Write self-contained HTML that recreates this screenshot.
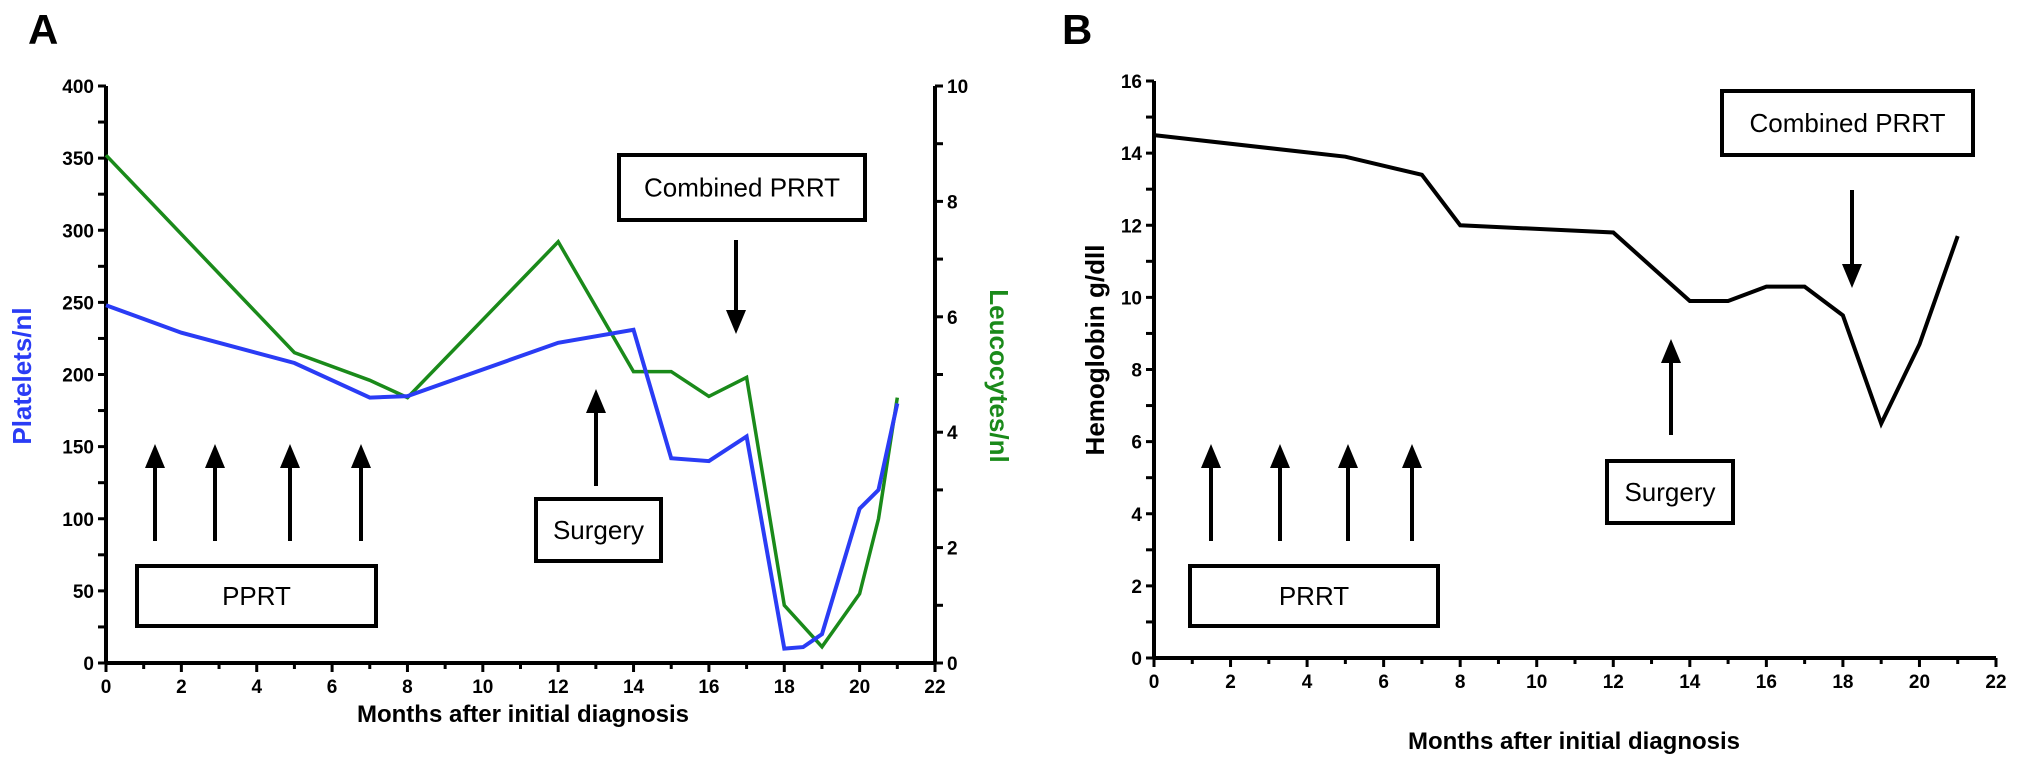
<!DOCTYPE html>
<html><head><meta charset="utf-8">
<style>
html,body{margin:0;padding:0;background:#fff}
svg{display:block}
text{font-family:"Liberation Sans",Arial,sans-serif}
.tk{font-size:19px;font-weight:bold}
</style></head>
<body>
<svg id="chart" width="2031" height="772" viewBox="0 0 2031 772" xmlns="http://www.w3.org/2000/svg">
<text x="28" y="44" font-size="42" font-weight="bold">A</text>
<text x="1062" y="44" font-size="42" font-weight="bold">B</text>
<g id="gA"></g>
<g id="gB"></g>
</svg>
<script>
const monthsPlatelets=[0,2,5,7,8,12,14,15,16,17,18,18.5,19,20,20.5,21];
const platelets=[248,229,208,184,185,222,231,142,140,157,10,11,20,107,120,180];
const monthsLeuco=[0,5,7,8,12,14,15,16,17,18,19,20,20.5,21];
const leucocytes=[8.8,5.38,4.9,4.6,7.3,5.05,5.05,4.62,4.95,1.0,0.28,1.2,2.5,4.6];
const monthsHb=[0,5,7,8,12,14,15,16,17,18,19,20,21];
const hemoglobin=[14.5,13.9,13.4,12.0,11.8,9.9,9.9,10.3,10.3,9.5,6.5,8.7,11.7];
const xTicks=[0,2,4,6,8,10,12,14,16,18,20,22];
const plateletTicks=[0,50,100,150,200,250,300,350,400];
const leucoTicks=[0,2,4,6,8,10];
const hbTicks=[0,2,4,6,8,10,12,14,16];

const NS="http://www.w3.org/2000/svg";
function mk(parent,tag,attrs,txt){const e=document.createElementNS(NS,tag);for(const k in attrs)e.setAttribute(k,attrs[k]);if(txt!==undefined)e.textContent=txt;parent.appendChild(e);return e;}

const gA=document.getElementById('gA');
const gB=document.getElementById('gB');

const ax0=106, ax1=935, ay0=663, ay1=86;
const xA=m=>ax0+(ax1-ax0)*m/22;
const yP=v=>ay0+(ay1-ay0)*v/400;
const yL=v=>ay0+(ay1-ay0)*v/10;
const bx0=1154, bx1=1996, by0=658, by1=81;
const xB=m=>bx0+(bx1-bx0)*m/22;
const yH=v=>by0+(by1-by0)*v/16;

function xAxis(g,x,y0,name,titleX,titleY){
  let l=mk(g,'line',{x1:x(0),y1:y0,x2:x(22),y2:y0,stroke:'#000','stroke-width':4});
  
  
  for(let m=0;m<=22;m++){mk(g,'line',{x1:x(m),y1:y0,x2:x(m),y2:y0+(m%2?6:9),stroke:'#000','stroke-width':3});}
  xTicks.forEach(t=>{
    const e=mk(g,'text',{x:x(t),y:y0+30,'text-anchor':'middle',class:'tk'},String(t));
    
    
  });
  const tt=mk(g,'text',{x:titleX,y:titleY,'text-anchor':'middle','font-size':24,'font-weight':'bold'},'Months after initial diagnosis');
  
  
}
function yAxis(g,x,ys,ticks,max,minorStep,side,name){
  let l=mk(g,'line',{x1:x,y1:ys(0),x2:x,y2:ys(max),stroke:'#000','stroke-width':4});
  
  
  const dir=side==='left'?-1:1;
  for(let v=0;v<=max+1e-9;v+=minorStep){mk(g,'line',{x1:x,y1:ys(v),x2:x+dir*8,y2:ys(v),stroke:'#000','stroke-width':3});}
  ticks.forEach(t=>{
    const e=mk(g,'text',{x:x+dir*12,y:ys(t)+7,'text-anchor':side==='left'?'end':'start',class:'tk'},String(t));
    
    
  });
}
function series(g,xs,vs,xf,yf,color,w,name){
  const d=xs.map((m,i)=>(i?'L':'M')+xf(m).toFixed(1)+','+yf(vs[i]).toFixed(1)).join(' ');
  const p=mk(g,'path',{d:d,fill:'none',stroke:color,'stroke-width':w,'stroke-linejoin':'miter'});
  
  
}
function arrow(g,x,yFrom,yTo,name){
  const grp=mk(g,'g',{});
  
  
  const dir=yTo<yFrom?-1:1;
  const hl=24, hw=10;
  mk(grp,'line',{x1:x,y1:yFrom,x2:x,y2:yTo-dir*hl,stroke:'#000','stroke-width':4});
  mk(grp,'polygon',{points:`${x-hw},${yTo-dir*hl} ${x+hw},${yTo-dir*hl} ${x},${yTo}`,fill:'#000'});
}
function box(g,x1,y1,x2,y2,label,name){
  const grp=mk(g,'g',{});
  
  
  mk(grp,'rect',{x:x1,y:y1,width:x2-x1,height:y2-y1,fill:'#fff',stroke:'#000','stroke-width':4});
  mk(grp,'text',{x:(x1+x2)/2,y:(y1+y2)/2+9,'text-anchor':'middle','font-size':26},label);
}

yAxis(gA,ax0,yP,plateletTicks,400,25,'left','platelets-y-axis');
yAxis(gA,ax1,yL,leucoTicks,10,1,'right','leucocytes-y-axis');
xAxis(gA,xA,ay0,'panel-a',523,722);
series(gA,monthsLeuco,leucocytes,xA,yL,'#1a8a1a',3.5,'leucocytes-line');
series(gA,monthsPlatelets,platelets,xA,yP,'#2a3cf5',4,'platelets-line');
let t=mk(gA,'text',{x:0,y:0,transform:'translate(31,376) rotate(-90)','text-anchor':'middle','font-size':26,'font-weight':'bold',fill:'#2a3cf5'},'Platelets/nl');


t=mk(gA,'text',{x:0,y:0,transform:'translate(990,376) rotate(90)','text-anchor':'middle','font-size':26,'font-weight':'bold',fill:'#1a8a1a'},'Leucocytes/nl');


[155,215,290,361].forEach(x=>arrow(gA,x,541,444,'prrt-cycle-arrow'));
box(gA,137,566,376,626,'PPRT','pprt-box');
arrow(gA,596,486,389,'surgery-arrow');
box(gA,536,499,661,561,'Surgery','surgery-box');
box(gA,619,155,865,220,'Combined PRRT','combined-prrt-box');
arrow(gA,736,240,334,'combined-prrt-arrow');

yAxis(gB,bx0,yH,hbTicks,16,1,'left','hemoglobin-y-axis');
xAxis(gB,xB,by0,'panel-b',1574,749);
series(gB,monthsHb,hemoglobin,xB,yH,'#000',4,'hemoglobin-line');
t=mk(gB,'text',{x:0,y:0,transform:'translate(1104,350) rotate(-90)','text-anchor':'middle','font-size':26,'font-weight':'bold'},'Hemoglobin g/dll');


[1211,1280,1348,1412].forEach(x=>arrow(gB,x,541,444,'prrt-cycle-arrow'));
box(gB,1190,566,1438,626,'PRRT','prrt-box');
arrow(gB,1671,435,339,'surgery-arrow');
box(gB,1607,461,1733,523,'Surgery','surgery-box');
box(gB,1722,91,1973,155,'Combined PRRT','combined-prrt-box');
arrow(gB,1852,190,288,'combined-prrt-arrow');
</script>
</body></html>
